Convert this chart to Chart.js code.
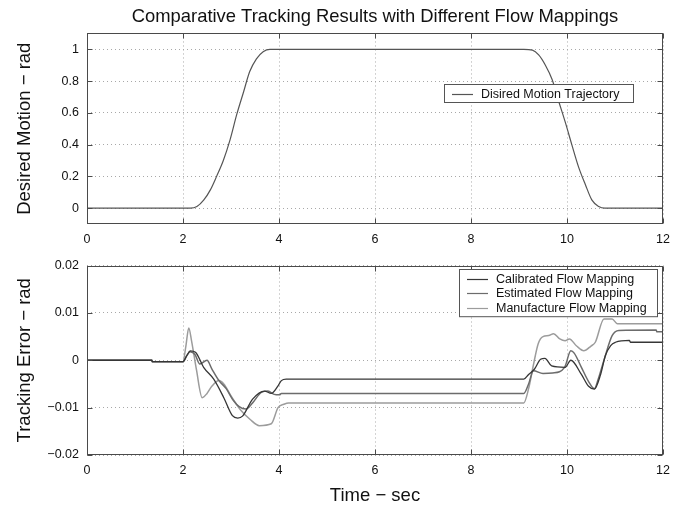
<!DOCTYPE html>
<html>
<head>
<meta charset="utf-8">
<script src="https://cdn.jsdelivr.net/npm/chart.js@4.4.1/dist/chart.umd.min.js"></script>
<style>
  html, body { margin: 0; padding: 0; background: #fff; }
  #wrap { position: relative; width: 687px; height: 508px; }
  #topChart { position: absolute; left: 0; top: 0; }
  #bottomChart { position: absolute; left: 0; top: 250px; }
</style>
</head>
<body>
<div id="wrap">
  <canvas id="topChart" width="687" height="250" style="width:687px;height:250px"></canvas>
  <canvas id="bottomChart" width="687" height="258" style="width:687px;height:258px"></canvas>
</div>
<script>
// tick values / labels
const timeTicks = [0, 2, 4, 6, 8, 10, 12];
const motionTicks = [0, 0.2, 0.4, 0.6, 0.8, 1];
const errorTicks = [-0.02, -0.01, 0, 0.01, 0.02];
const errorTickLabels = ["\u22120.02", "\u22120.01", "0", "0.01", "0.02"];

// top plot: desired trajectory
const desiredTime = [0, 2.1, 2.15, 2.29, 2.43, 2.57, 2.70, 2.84, 2.98, 3.12, 3.26, 3.39, 3.53, 3.67, 3.81, 3.95,
  9.1, 9.28, 9.41, 9.55, 9.69, 9.83, 9.97, 10.10, 10.24, 10.38, 10.52, 10.66, 10.79, 10.9, 12];
const desiredMotion = [0, 0, 0, 0.01, 0.05, 0.115, 0.2, 0.3, 0.43, 0.59, 0.73, 0.86, 0.94, 0.985, 1, 1,
  1, 0.995, 0.965, 0.9, 0.81, 0.67, 0.535, 0.4, 0.26, 0.15, 0.05, 0.01, 0, 0, 0];

// bottom plot: tracking errors
const calibTime = [0, 1.35, 1.36, 2.0, 2.08, 2.15, 2.26, 2.43, 2.64, 2.85, 3.03, 3.14, 3.24, 3.45, 3.70, 3.84, 3.98, 4.05, 4.15,
  9.1, 9.2, 9.32, 9.45, 9.54, 9.68, 9.96, 10.08, 10.3, 10.45, 10.57, 10.7, 10.8, 10.91, 11.01, 11.3, 11.32, 12];
const calibError = [0, 0, -0.0003, -0.0003, 0.001, 0.002, 0.0017, -0.0015, -0.004, -0.0079, -0.0117, -0.0122, -0.0118, -0.0082, -0.0065, -0.007, -0.0054, -0.0043, -0.004,
  -0.004, -0.003, -0.0019, 0.0002, 0.0004, -0.0012, -0.0015, 0.0, -0.003, -0.0055, -0.0061, -0.003, 0.001, 0.0031, 0.0038, 0.0042, 0.0038, 0.0038];

const estTime = [0, 1.35, 1.36, 2.0, 2.08, 2.15, 2.25, 2.35, 2.5, 2.6, 2.75, 2.9, 3.05, 3.17, 3.31, 3.45, 3.63, 3.77, 3.9, 4.01, 4.05,
  9.1, 9.2, 9.3, 9.5, 9.7, 9.95, 10.08, 10.15, 10.3, 10.45, 10.57, 10.65, 10.77, 10.94, 11.08, 11.86, 11.87, 12];
const estError = [0, 0, -0.0003, -0.0003, 0.001, 0.0018, 0.0012, -0.0008, 0.0, -0.0018, -0.0043, -0.006, -0.0085, -0.0098, -0.0103, -0.009, -0.0068, -0.0065, -0.0072, -0.0073, -0.007,
  -0.007, -0.005, -0.0022, -0.0028, -0.0027, -0.0015, 0.002, 0.0015, -0.0015, -0.0045, -0.006, -0.004, 0.0, 0.0052, 0.0063, 0.0064, 0.006, 0.006];

const manuTime = [0, 1.35, 1.36, 2.0, 2.06, 2.12, 2.18, 2.28, 2.4, 2.5, 2.6, 2.75, 2.85, 3.0, 3.2, 3.4, 3.59, 3.84, 3.98, 4.1, 4.2,
  9.1, 9.2, 9.3, 9.4, 9.5, 9.62, 9.72, 9.85, 9.96, 10.05, 10.2, 10.35, 10.5, 10.59, 10.77, 10.94, 11.05, 12];
const manuError = [0, 0, -0.0003, -0.0003, 0.003, 0.0068, 0.004, -0.002, -0.0079, -0.007, -0.0055, -0.0043, -0.005, -0.0075, -0.0105, -0.0125, -0.0138, -0.0134, -0.010, -0.0093, -0.009,
  -0.009, -0.006, -0.001, 0.0035, 0.005, 0.0052, 0.0056, 0.0045, 0.0041, 0.0045, 0.003, 0.002, 0.003, 0.0038, 0.0087, 0.0087, 0.0077, 0.0077];

const seriesLabels = ["Calibrated Flow Mapping", "Estimated Flow Mapping", "Manufacture Flow Mapping"];
const seriesColors = ["#363636", "#6c6c6c", "#9c9c9c"];

const pairs = (xs, ys) => xs.map((x, i) => ({ x: x, y: ys[i] }));

Chart.defaults.font.family = "'Liberation Sans', Arial, sans-serif";
Chart.defaults.color = "#111";

//box round the plot with short inward ticks, matlab style
const framePlugin = {
  id: "frame",
  afterDatasetsDraw(chart, args, opts) {
    const { ctx, chartArea: a, scales } = chart;
    const L = Math.round(a.left) + 0.5, R = Math.round(a.right) - 0.5;
    const T = Math.round(a.top) + 0.5, B = Math.round(a.bottom) - 0.5;
    ctx.save();
    ctx.strokeStyle = opts.color;
    ctx.lineWidth = 1;
    ctx.strokeRect(L, T, R - L, B - T);
    ctx.beginPath();
    scales.x.ticks.forEach((t) => {
      const px = Math.round(scales.x.getPixelForValue(t.value)) + 0.5;
      ctx.moveTo(px, B); ctx.lineTo(px, B - opts.tick);
      ctx.moveTo(px, T); ctx.lineTo(px, T + opts.tick);
    });
    scales.y.ticks.forEach((t) => {
      const py = Math.round(scales.y.getPixelForValue(t.value)) + 0.5;
      ctx.moveTo(L, py); ctx.lineTo(L + opts.tick, py);
      ctx.moveTo(R, py); ctx.lineTo(R - opts.tick, py);
    });
    ctx.stroke();
    ctx.restore();
  }
};

//legend box drawn inside the plot area
const boxLegend = {
  id: "boxLegend",
  afterDraw(chart, args, opts) {
    const ctx = chart.ctx;
    const sets = chart.data.datasets;
    const h = 18 + (sets.length - 1) * opts.rowHeight;
    ctx.save();
    ctx.fillStyle = "#fff";
    ctx.fillRect(opts.left, opts.top, opts.width, h);
    ctx.strokeStyle = "#555";
    ctx.lineWidth = 1;
    ctx.strokeRect(opts.left + 0.5, opts.top + 0.5, opts.width, h);
    ctx.font = opts.fontSize + "px 'Liberation Sans', Arial, sans-serif";
    ctx.textBaseline = "middle";
    ctx.fillStyle = "#111";
    sets.forEach((ds, i) => {
      const cy = Math.round(opts.top + 9.5 + i * opts.rowHeight) + 0.5;
      ctx.strokeStyle = ds.borderColor;
      ctx.lineWidth = 1.2;
      ctx.beginPath();
      ctx.moveTo(opts.left + 8, cy);
      ctx.lineTo(opts.left + 29, cy);
      ctx.stroke();
      ctx.fillText(ds.label, opts.left + 37, cy);
    });
    ctx.restore();
  }
};

const tickFont = { size: 12.5 };
const gridStyle = { color: "#a8a8a8", lineWidth: 1, drawTicks: false, tickLength: 0 };
const gridBorder = { display: false, dash: [1, 3] };

const xScale = (height, title) => ({
  type: "linear",
  min: 0,
  max: 12,
  grid: gridStyle,
  border: gridBorder,
  afterBuildTicks: (s) => { s.ticks = timeTicks.map((v) => ({ value: v })); },
  afterFit: (s) => { s.height = height; },
  ticks: { font: tickFont, padding: 8, maxRotation: 0, callback: (v) => String(v) },
  title: title
});

new Chart(document.getElementById("topChart"), {
  type: "line",
  data: {
    datasets: [{
      label: "Disired Motion Trajectory",
      data: pairs(desiredTime, desiredMotion),
      borderColor: "#555",
      borderWidth: 1.2,
      pointRadius: 0,
      cubicInterpolationMode: "monotone"
    }]
  },
  options: {
    responsive: false,
    animation: false,
    layout: { padding: { left: 0, right: 24, top: 0, bottom: 0 } },
    scales: {
      x: xScale(26, { display: false }),
      y: {
        type: "linear",
        min: -0.1,
        max: 1.1,
        grid: gridStyle,
        border: gridBorder,
        afterBuildTicks: (s) => { s.ticks = motionTicks.map((v) => ({ value: v })); },
        afterFit: (s) => { s.width = 87; },
        ticks: { font: tickFont, padding: 8, callback: (v) => String(v) },
        title: { display: true, text: "Desired Motion \u2212 rad", font: { size: 18.5 }, padding: { top: 14, bottom: 0 } }
      }
    },
    plugins: {
      legend: { display: false },
      tooltip: { enabled: false },
      title: {
        display: true,
        fullSize: false,
        text: "Comparative Tracking Results with Different Flow Mappings",
        font: { size: 18.4, weight: "normal" },
        color: "#111",
        padding: { top: 6, bottom: 5.4 }
      },
      frame: { color: "#4a4a4a", tick: 5 },
      boxLegend: { left: 444, top: 84, width: 189, rowHeight: 14.6, fontSize: 12.5 }
    }
  },
  plugins: [framePlugin, boxLegend]
});

new Chart(document.getElementById("bottomChart"), {
  type: "line",
  data: {
    datasets: [
      { label: seriesLabels[0], data: pairs(calibTime, calibError), borderWidth: 1.3 },
      { label: seriesLabels[1], data: pairs(estTime, estError), borderWidth: 1.5 },
      { label: seriesLabels[2], data: pairs(manuTime, manuError), borderWidth: 1.5 }
    ].map((ds, i) => Object.assign(ds, {
      borderColor: seriesColors[i],
      pointRadius: 0,
      cubicInterpolationMode: "monotone"
    }))
  },
  options: {
    responsive: false,
    animation: false,
    layout: { padding: { left: 0, right: 24, top: 13, bottom: 0 } },
    scales: {
      x: xScale(53, { display: true, text: "Time \u2212 sec", font: { size: 18.5 }, padding: { top: 0, bottom: 1 } }),
      y: {
        type: "linear",
        min: -0.02,
        max: 0.02,
        grid: gridStyle,
        border: gridBorder,
        afterBuildTicks: (s) => { s.ticks = errorTicks.map((v) => ({ value: v })); },
        afterFit: (s) => { s.width = 87; },
        ticks: { font: tickFont, padding: 8, callback: (v, i) => errorTickLabels[i] },
        title: { display: true, text: "Tracking Error \u2212 rad", font: { size: 18.5 }, padding: { top: 14, bottom: 0 } }
      }
    },
    plugins: {
      legend: { display: false },
      tooltip: { enabled: false },
      frame: { color: "#4a4a4a", tick: 5 },
      boxLegend: { left: 459, top: 19, width: 198, rowHeight: 14.6, fontSize: 12.5 }
    }
  },
  plugins: [framePlugin, boxLegend]
});
</script>
</body>
</html>
